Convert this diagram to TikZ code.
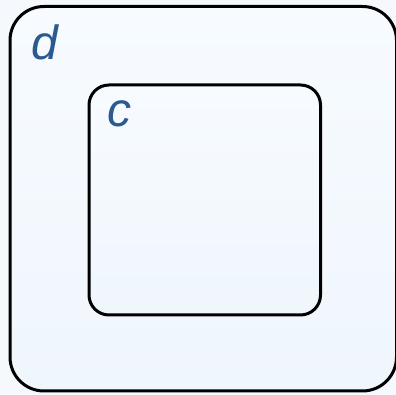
\documentclass[tikz,border=0pt]{standalone}
\usepackage{fontspec}
\setmainfont{Liberation Sans}
\definecolor{bgc}{HTML}{F5F9FD}
\definecolor{topc}{HTML}{F7FBFF}
\definecolor{botc}{HTML}{EFF6FC}
\definecolor{lbl}{HTML}{2A5A8F}
\tikzset{
  box/.style={draw=black, line width=3pt, top color=topc, bottom color=botc},
  lab/.style={text=lbl, font=\fontsize{48}{48}\selectfont\itshape, inner sep=0pt, anchor=base west}
}
\begin{document}
\begin{tikzpicture}[x=1pt,y=1pt]
\useasboundingbox (0,0) rectangle (396,395);
\fill[bgc] (0,0) rectangle (396,395);
\path[box, rounded corners=34pt] (10,4) rectangle (396.5,388.5);
\path[box, rounded corners=20pt] (89,80) rectangle (320.5,310);
\node[lab] (d) at (31,335) {d};
\node[lab] (c) at (107,268) {c};
\end{tikzpicture}
\end{document}
